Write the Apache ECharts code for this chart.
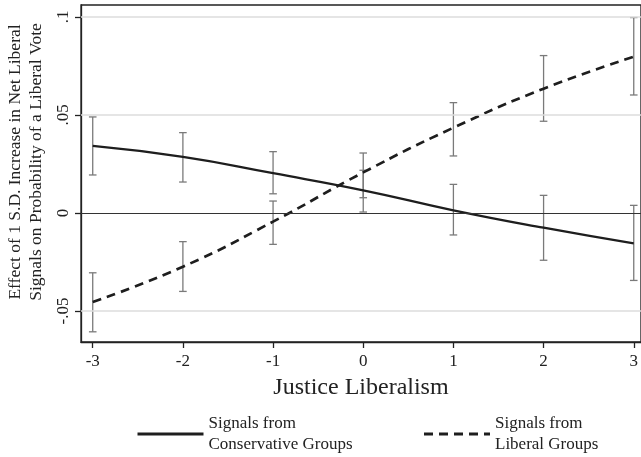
<!DOCTYPE html>
<html>
<head>
<meta charset="utf-8">
<script src="https://cdn.jsdelivr.net/npm/echarts@6/dist/echarts.min.js"></script>
<style>html,body{margin:0;padding:0;background:#fff;}#c{width:641px;height:457px;}</style>
</head>
<body>
<div id="c"></div>
<script>
var xValues = [-3, -2, -1, 0, 1, 2, 3];
var consMean = [0.0342, 0.0286, 0.0203, 0.0116, 0.0014, -0.0075, -0.0155];
var consLow  = [0.0194, 0.0158, 0.0098, 0.0005, -0.0112, -0.0241, -0.0344];
var consHigh = [0.0490, 0.0410, 0.0313, 0.0218, 0.0146, 0.0090, 0.0039];
var libMean  = [-0.0454, -0.0274, -0.0044, 0.0207, 0.0435, 0.0634, 0.0797];
var libLow   = [-0.0606, -0.0400, -0.0160, 0.0078, 0.0291, 0.0468, 0.0602];
var libHigh  = [-0.0305, -0.0146, 0.0061, 0.0306, 0.0563, 0.0803, 0.0997];
var xTicks = [-3, -2, -1, 0, 1, 2, 3];
var yTicks = [-0.05, 0, 0.05, 0.1];
var yTickLabels = ['-.05', '0', '.05', '.1'];
var seriesNames = ['Signals from\nConservative Groups', 'Signals from\nLiberal Groups'];
var xTitle = 'Justice Liberalism';
var yTitle = 'Effect of 1 S.D. Increase in Net Liberal\nSignals on Probability of a Liberal Vote';

var FONT = '"Liberation Serif", "Times New Roman", serif';
var chart = echarts.init(document.getElementById('c'), null, {renderer: 'canvas'});

function pairs(xs, ys) { return xs.map(function (x, i) { return [x, ys[i]]; }); }
function bars(xs, lo, hi) { return xs.map(function (x, i) { return [x, lo[i], hi[i]]; }); }

function renderErr(params, api) {
  var x = api.value(0);
  var p1 = api.coord([x, api.value(1)]);
  var p2 = api.coord([x, api.value(2)]);
  var w = 3.8;
  var st = {stroke: '#7a7a7a', lineWidth: 1.3};
  return {
    type: 'group',
    children: [
      {type: 'line', shape: {x1: p1[0], y1: p1[1], x2: p2[0], y2: p2[1]}, style: st},
      {type: 'line', shape: {x1: p1[0] - w, y1: p1[1], x2: p1[0] + w, y2: p1[1]}, style: st},
      {type: 'line', shape: {x1: p2[0] - w, y1: p2[1], x2: p2[0] + w, y2: p2[1]}, style: st}
    ]
  };
}

var option = {
  animation: false,
  backgroundColor: '#fff',
  grid: {left: 81, right: -2, top: 5, bottom: 115, show: true, borderColor: '#222', borderWidth: 1.3, backgroundColor: 'transparent'},
  xAxis: {
    type: 'value', min: -3.13, max: 3.08,
    axisLine: {show: true, onZero: false, lineStyle: {color: '#222', width: 1.3}},
    axisTick: {show: true, length: 6, customValues: xTicks, lineStyle: {color: '#222', width: 1.3}},
    axisLabel: {customValues: xTicks, color: '#222', fontFamily: FONT, fontSize: 17, margin: 11,
      formatter: function (v) { return String(v); }},
    splitLine: {show: false},
    name: xTitle, nameLocation: 'middle', nameGap: 34,
    nameTextStyle: {color: '#222', fontFamily: FONT, fontSize: 24}
  },
  yAxis: {
    type: 'value', min: -0.0658, max: 0.1061,
    axisLine: {show: true, onZero: false, lineStyle: {color: '#222', width: 1.3}},
    axisTick: {show: true, length: 6, customValues: yTicks, lineStyle: {color: '#222', width: 1.3}},
    axisLabel: {customValues: yTicks, color: '#222', fontFamily: FONT, fontSize: 17, rotate: 90, margin: 9,
      formatter: function (v) {
        for (var i = 0; i < yTicks.length; i++) { if (Math.abs(v - yTicks[i]) < 1e-9) return yTickLabels[i]; }
        return '';
      }},
    splitLine: {show: false}
  },
  legend: {
    show: true, left: 131, top: 408, itemGap: 70, itemWidth: 66, itemHeight: 12,
    data: seriesNames,
    itemStyle: {opacity: 0},
    lineStyle: {width: 3},
    textStyle: {color: '#222', fontFamily: FONT, fontSize: 17, lineHeight: 21}
  },
  graphic: [{
    type: 'text', x: 26, y: 162, rotation: Math.PI / 2,
    style: {text: yTitle, fontFamily: FONT, fontSize: 17.5, lineHeight: 21, fill: '#222', align: 'center', verticalAlign: 'middle'}
  }],
  series: [
    {
      type: 'line', name: '_grid', data: [], silent: true,
      markLine: {
        silent: true, symbol: 'none', label: {show: false}, animation: false,
        data: [
          {yAxis: 0.1, lineStyle: {color: '#dcdcdc', width: 1.5, type: 'solid'}},
          {yAxis: 0.05, lineStyle: {color: '#dcdcdc', width: 1.5, type: 'solid'}},
          {yAxis: -0.05, lineStyle: {color: '#dcdcdc', width: 1.5, type: 'solid'}},
          {yAxis: 0, lineStyle: {color: '#333', width: 1.2, type: 'solid'}}
        ]
      }
    },
    {type: 'custom', name: 'consErr', renderItem: renderErr, data: bars(xValues, consLow, consHigh), silent: true, z: 3},
    {type: 'custom', name: 'libErr', renderItem: renderErr, data: bars(xValues, libLow, libHigh), silent: true, z: 3},
    {
      type: 'line', name: seriesNames[0], data: pairs(xValues, consMean), smooth: true, symbol: 'none', z: 4,
      lineStyle: {color: '#1e1e1e', width: 2.3, type: 'solid'}, itemStyle: {color: '#1e1e1e'}
    },
    {
      type: 'line', name: seriesNames[1], data: pairs(xValues, libMean), smooth: true, symbol: 'none', z: 4,
      lineStyle: {color: '#1e1e1e', width: 2.7, type: [9, 6]}, itemStyle: {color: '#1e1e1e'}
    }
  ]
};
chart.setOption(option);
</script>
</body>
</html>
